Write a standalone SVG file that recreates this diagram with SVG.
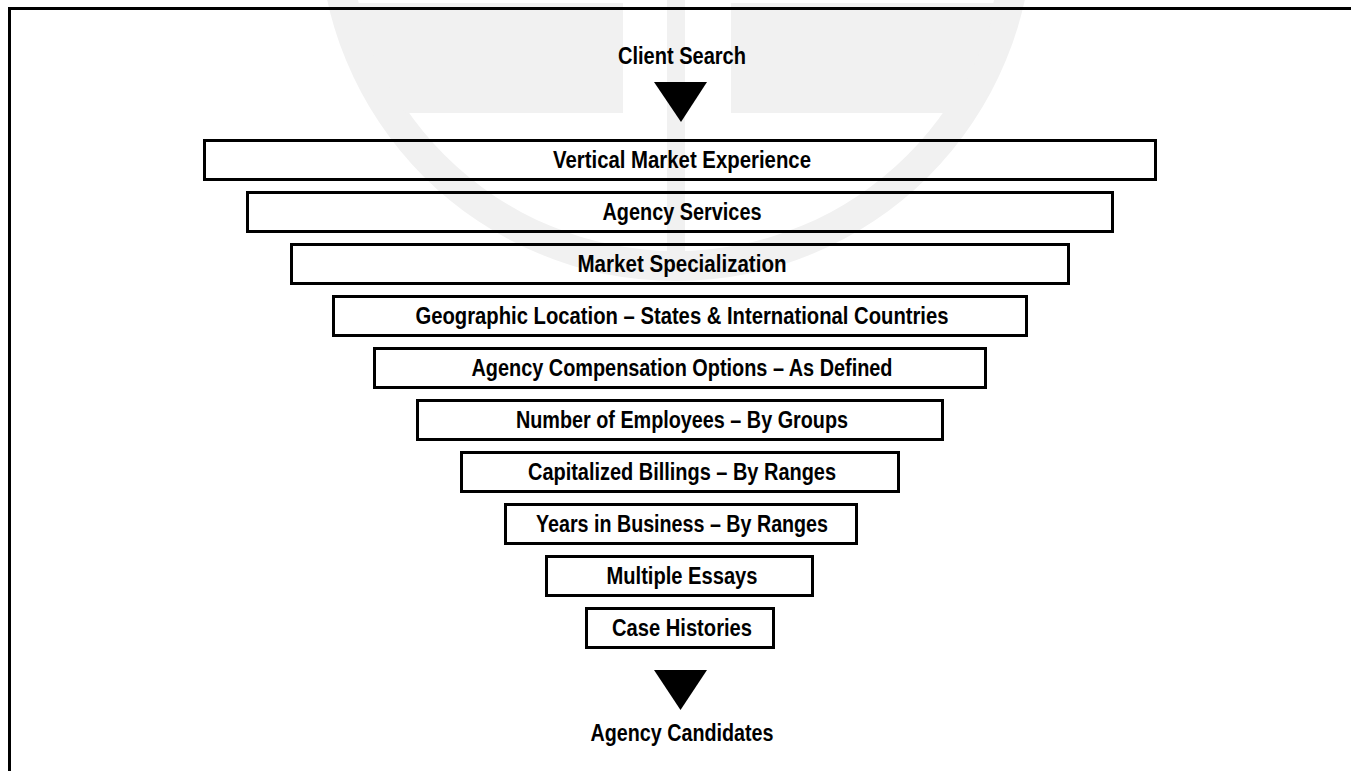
<svg xmlns="http://www.w3.org/2000/svg" width="1351" height="771" viewBox="0 0 1351 771">
<style>
.box{fill:none;stroke:#000;stroke-width:3}
.t{font-family:"Liberation Sans Narrow","Liberation Sans",Arial,sans-serif;font-weight:bold;font-size:23px;fill:#000;text-anchor:middle}
.wm{fill:#f1f1f1}
.tri{fill:#000}
</style>
<defs>
<clipPath id="inner"><circle cx="676" cy="-76" r="330"/></clipPath>
</defs>
<rect x="0" y="0" width="1351" height="771" fill="#fff"/>
<g id="watermark">
<path class="wm" fill-rule="evenodd" d="M319,-76a357,357 0 1,0 714,0a357,357 0 1,0 -714,0z M349,-76a327,327 0 1,0 654,0a327,327 0 1,0 -654,0z"/>
<g clip-path="url(#inner)">
<rect class="wm" x="300" y="3" width="323" height="110"/>
<rect class="wm" x="731" y="3" width="330" height="110"/>
<rect class="wm" x="667" y="0" width="18" height="260"/>
</g>
</g>
<rect x="9.5" y="8.5" width="1343" height="800" fill="none" stroke="#000" stroke-width="3"/>
<g id="connectors">
<polygon id="arrow-top" class="tri" points="654,82 707,82 681,122"/>
<polygon id="arrow-bottom" class="tri" points="654,670 707,670 680.5,710"/>
</g>
<g id="client-search"><text class="t" x="682" y="64" textLength="128" lengthAdjust="spacingAndGlyphs">Client Search</text></g>
<g id="n1"><rect class="box" x="204.5" y="140.5" width="951" height="39"/><text class="t" x="682" y="167.5" textLength="258" lengthAdjust="spacingAndGlyphs">Vertical Market Experience</text></g>
<g id="n2"><rect class="box" x="247.5" y="192.5" width="865" height="39"/><text class="t" x="682" y="219.5" textLength="159" lengthAdjust="spacingAndGlyphs">Agency Services</text></g>
<g id="n3"><rect class="box" x="291.5" y="244.5" width="777" height="39"/><text class="t" x="682" y="271.5" textLength="209" lengthAdjust="spacingAndGlyphs">Market Specialization</text></g>
<g id="n4"><rect class="box" x="333.5" y="296.5" width="693" height="39"/><text class="t" x="682" y="323.5" textLength="533" lengthAdjust="spacingAndGlyphs">Geographic Location – States &amp; International Countries</text></g>
<g id="n5"><rect class="box" x="374.5" y="348.5" width="611" height="39"/><text class="t" x="682" y="375.5" textLength="421" lengthAdjust="spacingAndGlyphs">Agency Compensation Options – As Defined</text></g>
<g id="n6"><rect class="box" x="417.5" y="400.5" width="525" height="39"/><text class="t" x="682" y="427.5" textLength="332" lengthAdjust="spacingAndGlyphs">Number of Employees – By Groups</text></g>
<g id="n7"><rect class="box" x="461.5" y="452.5" width="437" height="39"/><text class="t" x="682" y="479.5" textLength="308" lengthAdjust="spacingAndGlyphs">Capitalized Billings – By Ranges</text></g>
<g id="n8"><rect class="box" x="505.5" y="504.5" width="351" height="39"/><text class="t" x="682" y="531.5" textLength="292" lengthAdjust="spacingAndGlyphs">Years in Business – By Ranges</text></g>
<g id="n9"><rect class="box" x="546.5" y="556.5" width="266" height="39"/><text class="t" x="682" y="583.5" textLength="151" lengthAdjust="spacingAndGlyphs">Multiple Essays</text></g>
<g id="n10"><rect class="box" x="586.5" y="608.5" width="187" height="39"/><text class="t" x="682" y="635.5" textLength="140" lengthAdjust="spacingAndGlyphs">Case Histories</text></g>
<g id="agency-candidates"><text class="t" x="682" y="741" textLength="183" lengthAdjust="spacingAndGlyphs">Agency Candidates</text></g>
</svg>
